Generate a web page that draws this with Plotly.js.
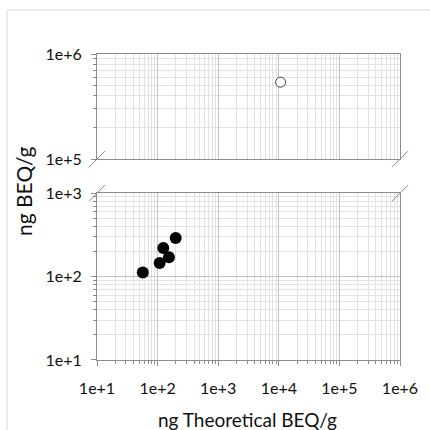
<!DOCTYPE html>
<html>
<head>
<meta charset="utf-8">
<script src="https://cdn.plot.ly/plotly-3.0.1.min.js"></script>
<style>html,body{margin:0;padding:0;background:#fff;}#chart{width:430px;height:430px;}</style>
</head>
<body>
<div id="chart"></div>
<script>
// ---- data ----
const lowX = [57, 108, 124, 154, 199];
const lowY = [112, 145, 220, 170, 290];
const highX = [10700];
const highY = [540000];
const xTickVals = [1e1, 1e2, 1e3, 1e4, 1e5, 1e6];
const xTickText = ["1e+1", "1e+2", "1e+3", "1e+4", "1e+5", "1e+6"];
const yLowTickVals = [1e1, 1e2, 1e3];
const yLowTickText = ["1e+1", "1e+2", "1e+3"];
const yHighTickVals = [1e5, 1e6];
const yHighTickText = ["1e+5", "1e+6"];
const xTitle = "ng Theoretical BEQ/g";
const yTitle = "ng BEQ/g";

// ---- layout helpers ----
const W = 430, H = 430;
const L = 97, R = 30, T = 54, B = 70;
const pw = W - L - R, ph = H - T - B;
const lowTop = 0.5453, highBot = 0.6565;
const fontFam = "Lato, 'Open Sans', sans-serif";
const major = '#c4c4c4', minorC = '#e2e2e2', axisC = '#8c8c8c';

function px2x(p){ return (p - L) / pw; }
function py2y(p){ return (H - B - p) / ph; }

const axisBase = {
  type: 'log', showline: true, mirror: true, linecolor: axisC, linewidth: 1,
  showgrid: true, gridcolor: major, gridwidth: 1, zeroline: false,
  ticks: 'outside', ticklen: 5, tickcolor: axisC,
  tickfont: {family: fontFam, size: 16, color: '#111'},
  minor: {showgrid: true, gridcolor: minorC, ticks: 'outside', ticklen: 3, tickcolor: axisC, dtick: 'D1'},
  tickmode: 'array', fixedrange: true
};

const traces = [
  {x: lowX, y: lowY, xaxis: 'x', yaxis: 'y', type: 'scatter', mode: 'markers',
   marker: {size: 12, color: '#000', line: {width: 0}}, hoverinfo: 'skip'},
  {x: highX, y: highY, xaxis: 'x2', yaxis: 'y2', type: 'scatter', mode: 'markers',
   marker: {size: 10, color: '#fff', line: {width: 1, color: '#404040'}}, hoverinfo: 'skip'}
];

const d = 8;
function brk(cx, cy){
  return {type: 'line', xref: 'paper', yref: 'paper',
    x0: px2x(cx - d), y0: py2y(cy + d), x1: px2x(cx + d), y1: py2y(cy - d),
    line: {color: '#8a8a8a', width: 1}};
}
const yHighBotPx = H - B - highBot * ph;
const yLowTopPx = H - B - lowTop * ph;

const layout = {
  width: W, height: H, margin: {l: L, r: R, t: T, b: B},
  paper_bgcolor: '#fff', plot_bgcolor: '#fff', showlegend: false,
  xaxis: Object.assign({}, axisBase, {range: [1, 6], tickvals: xTickVals, ticktext: xTickText, anchor: 'y', ticklabelstandoff: 9}),
  xaxis2: Object.assign({}, axisBase, {range: [1, 6], tickvals: xTickVals, ticktext: xTickText, anchor: 'y2', showticklabels: false, ticks: '', minor: {showgrid: true, gridcolor: minorC, ticks: '', dtick: 'D1'}}),
  yaxis: Object.assign({}, axisBase, {range: [1, 3], domain: [0, lowTop], tickvals: yLowTickVals, ticktext: yLowTickText, anchor: 'x', ticklabelstandoff: 6}),
  yaxis2: Object.assign({}, axisBase, {range: [5, 6], domain: [highBot, 1], tickvals: yHighTickVals, ticktext: yHighTickText, anchor: 'x2', ticklabelstandoff: 6}),
  shapes: [
    {type: 'line', xref: 'paper', yref: 'paper', x0: px2x(7), x1: px2x(7), y0: py2y(10), y1: py2y(440), line: {color: '#d9d9d9', width: 1}},
    {type: 'line', xref: 'paper', yref: 'paper', x0: px2x(7), x1: px2x(440), y0: py2y(10), y1: py2y(10), line: {color: '#d9d9d9', width: 1}},
    brk(L, yHighBotPx), brk(W - R, yHighBotPx), brk(L, yLowTopPx), brk(W - R, yLowTopPx)
  ],
  annotations: [
    {text: xTitle, xref: 'paper', yref: 'paper', x: px2x(247), y: py2y(419), showarrow: false,
     xanchor: 'center', yanchor: 'middle', font: {family: fontFam, size: 19, color: '#111'}},
    {text: yTitle, xref: 'paper', yref: 'paper', x: px2x(23), y: py2y(191), showarrow: false, textangle: -90,
     xanchor: 'center', yanchor: 'middle', font: {family: fontFam, size: 21, color: '#111'}}
  ]
};

Plotly.newPlot('chart', traces, layout, {staticPlot: true, displayModeBar: false});
</script>
</body>
</html>
